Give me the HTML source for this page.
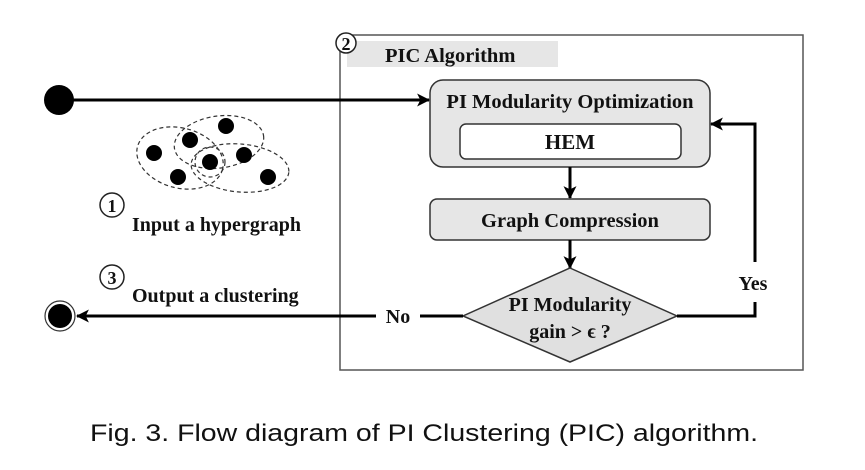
<!DOCTYPE html>
<html><head><meta charset="utf-8"><style>
html,body{margin:0;padding:0;background:#fff;}
svg{display:block;}
.b{font-family:"Liberation Serif",serif;font-weight:bold;fill:#111;}
</style></head><body>
<svg width="865" height="470" viewBox="0 0 865 470" xmlns="http://www.w3.org/2000/svg">
<defs>
<marker id="ah" viewBox="0 0 12 12" refX="11" refY="6" markerWidth="13" markerHeight="13" markerUnits="userSpaceOnUse" orient="auto">
<path d="M0,0 L12,6 L0,12 L3,6 z" fill="#000"/>
</marker>
</defs>
<rect x="340" y="35" width="463" height="335" fill="none" stroke="#555" stroke-width="1.5"/>
<rect x="347" y="41" width="211" height="26" fill="#e6e6e6"/>
<circle cx="346" cy="43" r="10" fill="#fff" stroke="#222" stroke-width="1.5"/>
<text x="346" y="50" class="b" font-size="18" text-anchor="middle">2</text>
<text x="385" y="62" class="b" font-size="20.5">PIC Algorithm</text>
<rect x="430" y="80" width="280" height="87" rx="13" fill="#e6e6e6" stroke="#333" stroke-width="1.5"/>
<text x="570" y="108" class="b" font-size="20.5" text-anchor="middle">PI Modularity Optimization</text>
<rect x="460" y="124" width="221" height="35" rx="6" fill="#fff" stroke="#333" stroke-width="1.5"/>
<text x="570" y="149" class="b" font-size="21" text-anchor="middle">HEM</text>
<line x1="570" y1="167" x2="570" y2="198" stroke="#000" stroke-width="3" marker-end="url(#ah)"/>
<rect x="430" y="199" width="280" height="41" rx="7" fill="#e6e6e6" stroke="#333" stroke-width="1.5"/>
<text x="570" y="227" class="b" font-size="20.5" text-anchor="middle">Graph Compression</text>
<line x1="570" y1="240" x2="570" y2="268" stroke="#000" stroke-width="3" marker-end="url(#ah)"/>
<polygon points="570,268 677,316 570,362 463,316" fill="#e0e0e0" stroke="#333" stroke-width="1.5"/>
<text x="570" y="311" class="b" font-size="20" text-anchor="middle">PI Modularity</text>
<text x="570" y="338" class="b" font-size="20" text-anchor="middle">gain &gt; ϵ ?</text>
<polyline points="677,316 755,316 755,302" fill="none" stroke="#000" stroke-width="3"/>
<polyline points="755,262 755,124 711,124" fill="none" stroke="#000" stroke-width="3" marker-end="url(#ah)"/>
<text x="753" y="290" class="b" font-size="20" text-anchor="middle">Yes</text>
<line x1="463" y1="316" x2="420" y2="316" stroke="#000" stroke-width="3"/>
<line x1="376" y1="316" x2="77" y2="316" stroke="#000" stroke-width="3" marker-end="url(#ah)"/>
<text x="398" y="323" class="b" font-size="20" text-anchor="middle">No</text>
<circle cx="60" cy="316" r="15" fill="#fff" stroke="#333" stroke-width="1.2"/>
<circle cx="60" cy="316" r="12" fill="#000"/>
<circle cx="59" cy="100" r="15" fill="#000"/>
<line x1="70" y1="100" x2="429" y2="100" stroke="#000" stroke-width="3" marker-end="url(#ah)"/>
<g fill="none" stroke="#333" stroke-width="1.2" stroke-dasharray="4,3">
<ellipse cx="180" cy="158" rx="44" ry="30" transform="rotate(15 180 158)"/>
<ellipse cx="219" cy="142" rx="45" ry="26" transform="rotate(-8 219 142)"/>
<ellipse cx="240" cy="168" rx="49" ry="24" transform="rotate(5 240 168)"/>
<circle cx="210" cy="162" r="15"/>
</g>
<g fill="#000">
<circle cx="154" cy="153" r="8"/><circle cx="190" cy="140" r="8"/><circle cx="226" cy="126" r="8"/>
<circle cx="210" cy="162" r="8"/><circle cx="244" cy="155" r="8"/><circle cx="178" cy="177" r="8"/>
<circle cx="268" cy="177" r="8"/>
</g>
<circle cx="112" cy="205" r="12" fill="#fff" stroke="#222" stroke-width="1.5"/>
<text x="112" y="212" class="b" font-size="18" text-anchor="middle">1</text>
<text x="132" y="231" class="b" font-size="20">Input a hypergraph</text>
<circle cx="112" cy="277" r="12" fill="#fff" stroke="#222" stroke-width="1.5"/>
<text x="112" y="284" class="b" font-size="18" text-anchor="middle">3</text>
<text x="132" y="302" class="b" font-size="20">Output a clustering</text>
<text x="90" y="441" font-family="Liberation Sans, sans-serif" font-size="24" fill="#111" textLength="668" lengthAdjust="spacingAndGlyphs">Fig. 3.  Flow diagram of PI Clustering (PIC) algorithm.</text>
</svg>
</body></html>
